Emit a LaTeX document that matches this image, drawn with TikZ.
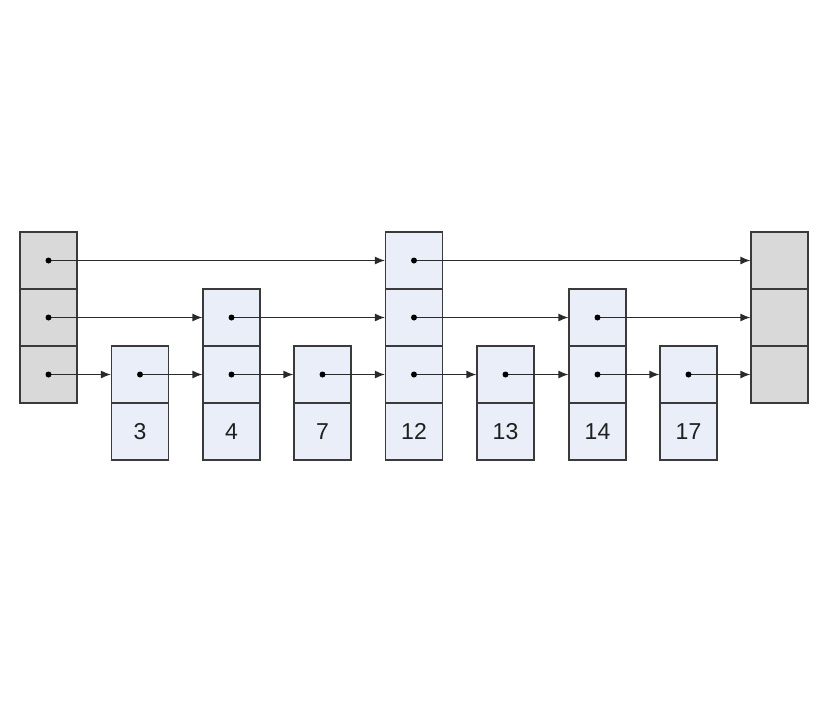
\documentclass[tikz,border=0pt]{standalone}
\usepackage{fontspec}
\setmainfont{Liberation Sans}
\usetikzlibrary{arrows.meta}
\definecolor{edgecol}{HTML}{3A3A3A}
\definecolor{linkcol}{HTML}{2A2A2A}
\definecolor{endfill}{HTML}{D9D9D9}
\definecolor{nodefill}{HTML}{E9EEF8}
\begin{document}
\begin{tikzpicture}[x=1pt,y=-1pt,
  cell/.style={draw=edgecol, line width=1.2pt, minimum width=57pt, minimum height=57pt, inner sep=0pt, outer sep=0pt, font=\fontsize{23}{23}\selectfont, text=black!88},
  endcell/.style={cell, fill=endfill},
  keycell/.style={cell, fill=nodefill},
  link/.style={draw=linkcol, line width=1.2pt, -{Latex[length=10pt,width=8pt]}, shorten >=0.6pt},
  dot/.style={fill=black}]
\useasboundingbox (0,0) rectangle (829,724);
% head and tail
\foreach \r/\y in {3/260.5,2/317.5,1/374.5}{
  \node[endcell] (h\r) at (48.5,\y) {};
  \node[endcell] (t\r) at (779.5,\y) {};
}
% key nodes: name/x/height
\foreach \k/\x/\hgt in {3/140/1,4/231.5/2,7/322.5/1,12/414/3,13/505.5/1,14/597.5/2,17/688.5/1}{
  \node[keycell] (v\k) at (\x,431.5) {\k};
  \foreach \r/\y in {1/374.5,2/317.5,3/260.5}{
    \ifnum\r>\hgt\else
      \node[keycell] (n\k-\r) at (\x,\y) {};
    \fi
  }
}
% links level 3
\draw[link] (h3.center) -- (n12-3.west);
\draw[link] (n12-3.center) -- (t3.west);
% links level 2
\draw[link] (h2.center) -- (n4-2.west);
\draw[link] (n4-2.center) -- (n12-2.west);
\draw[link] (n12-2.center) -- (n14-2.west);
\draw[link] (n14-2.center) -- (t2.west);
% links level 1
\draw[link] (h1.center) -- (n3-1.west);
\draw[link] (n3-1.center) -- (n4-1.west);
\draw[link] (n4-1.center) -- (n7-1.west);
\draw[link] (n7-1.center) -- (n12-1.west);
\draw[link] (n12-1.center) -- (n13-1.west);
\draw[link] (n13-1.center) -- (n14-1.west);
\draw[link] (n14-1.center) -- (n17-1.west);
\draw[link] (n17-1.center) -- (t1.west);
% dots
\foreach \c in {h1,h2,h3,n3-1,n4-1,n4-2,n7-1,n12-1,n12-2,n12-3,n13-1,n14-1,n14-2,n17-1}{
  \fill[dot] (\c.center) circle (3pt);
}
\end{tikzpicture}
\end{document}
